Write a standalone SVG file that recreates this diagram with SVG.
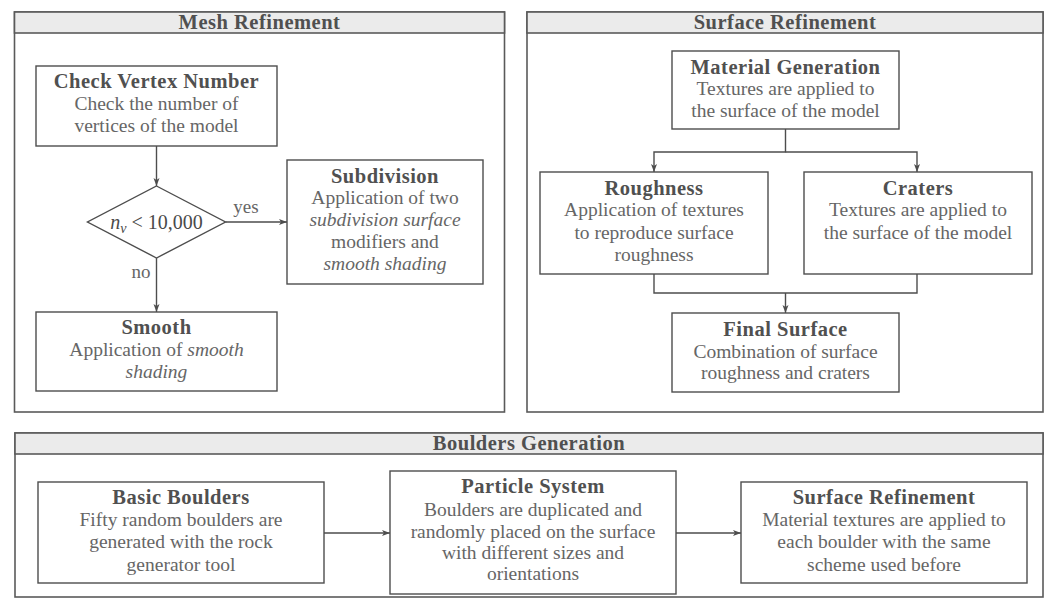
<svg xmlns="http://www.w3.org/2000/svg" width="1056" height="608" viewBox="0 0 1056 608">
<defs>
<marker id="arr" markerUnits="userSpaceOnUse" markerWidth="10" markerHeight="8" refX="8" refY="3.5" orient="auto">
<path d="M0,0.5 L8,3.5 L0,6.5 L2,3.5 z" fill="#4d4d4d"/>
</marker>
<style>
.panel{fill:#fff;stroke:#5a5a5a;stroke-width:1.6}
.hdr{fill:#ebebeb;stroke:#5a5a5a;stroke-width:1.6}
.box{fill:#fff;stroke:#4d4d4d;stroke-width:1.4}
.edge{fill:none;stroke:#4d4d4d;stroke-width:1.4}
.t{font-family:"Liberation Serif",serif;font-size:20.5px;font-weight:bold;fill:#505050;text-anchor:middle;letter-spacing:0.5px}
.b{font-family:"Liberation Serif",serif;font-size:19.5px;fill:#666;text-anchor:middle}
.i{font-style:italic}
.lbl{font-family:"Liberation Serif",serif;font-size:19px;fill:#666;text-anchor:middle}
</style>
</defs>

<g id="panel-mesh">
<rect class="panel" x="14.5" y="12" width="490" height="400"/>
<rect class="hdr" x="14.5" y="12" width="490" height="21"/>
<text class="t" x="259.5" y="29">Mesh Refinement</text>
</g>
<g id="panel-surface">
<rect class="panel" x="527" y="12" width="516" height="400"/>
<rect class="hdr" x="527" y="12" width="516" height="21"/>
<text class="t" x="785" y="29">Surface Refinement</text>
</g>
<g id="panel-boulders">
<rect class="panel" x="15" y="433" width="1028" height="164"/>
<rect class="hdr" x="15" y="433" width="1028" height="21"/>
<text class="t" x="529" y="450">Boulders Generation</text>
</g>

<g id="connectors">
<path class="edge" d="M156.5,146 V186" marker-end="url(#arr)"/>
<path class="edge" d="M225.5,222 H287" marker-end="url(#arr)"/>
<path class="edge" d="M156.5,258 V312" marker-end="url(#arr)"/>
<path class="edge" d="M785.5,129 V152 H654 V172" marker-end="url(#arr)"/>
<path class="edge" d="M785.5,152 H917 V172" marker-end="url(#arr)"/>
<path class="edge" d="M654,274 V293 H917 V274"/>
<path class="edge" d="M785.5,293 V313" marker-end="url(#arr)"/>
<path class="edge" d="M324,533 H390" marker-end="url(#arr)"/>
<path class="edge" d="M676,533 H741" marker-end="url(#arr)"/>
<text class="lbl" x="246" y="213">yes</text>
<text class="lbl" x="141" y="278">no</text>
</g>

<g id="check-vertex">
<rect class="box" x="36" y="66" width="241" height="80"/>
<text class="t" x="156.5" y="88">Check Vertex Number</text>
<text class="b" x="156.5" y="110">Check the number of</text>
<text class="b" x="156.5" y="132">vertices of the model</text>
</g>
<g id="decision">
<polygon class="box" points="156.5,186 225.5,222 156.5,258 87.5,222"/>
<text font-family="Liberation Serif, serif" font-size="20px" fill="#4a4a4a" text-anchor="middle" x="156.5" y="229"><tspan font-style="italic">n</tspan><tspan font-style="italic" font-size="14px" dy="4">v</tspan><tspan dy="-4"> &lt; 10,000</tspan></text>
</g>
<g id="subdivision">
<rect class="box" x="287" y="160" width="196" height="124"/>
<text class="t" x="385" y="183">Subdivision</text>
<text class="b" x="385" y="204">Application of two</text>
<text class="b i" x="385" y="226">subdivision surface</text>
<text class="b" x="385" y="248">modifiers and</text>
<text class="b i" x="385" y="270">smooth shading</text>
</g>
<g id="smooth">
<rect class="box" x="36" y="312" width="241" height="79"/>
<text class="t" x="156.5" y="334">Smooth</text>
<text class="b" x="156.5" y="356">Application of <tspan class="i">smooth</tspan></text>
<text class="b i" x="156.5" y="378">shading</text>
</g>

<g id="material">
<rect class="box" x="672" y="51" width="227" height="78"/>
<text class="t" x="785.5" y="74">Material Generation</text>
<text class="b" x="785.5" y="95">Textures are applied to</text>
<text class="b" x="785.5" y="117">the surface of the model</text>
</g>
<g id="roughness">
<rect class="box" x="540" y="172" width="228" height="102"/>
<text class="t" x="654" y="195">Roughness</text>
<text class="b" x="654" y="216">Application of textures</text>
<text class="b" x="654" y="239">to reproduce surface</text>
<text class="b" x="654" y="261">roughness</text>
</g>
<g id="craters">
<rect class="box" x="804" y="172" width="228" height="102"/>
<text class="t" x="918" y="195">Craters</text>
<text class="b" x="918" y="216">Textures are applied to</text>
<text class="b" x="918" y="239">the surface of the model</text>
</g>
<g id="final-surface">
<rect class="box" x="672" y="313" width="227" height="79"/>
<text class="t" x="785.5" y="336">Final Surface</text>
<text class="b" x="785.5" y="358">Combination of surface</text>
<text class="b" x="785.5" y="379">roughness and craters</text>
</g>

<g id="basic-boulders">
<rect class="box" x="38" y="482" width="286" height="101"/>
<text class="t" x="181" y="504">Basic Boulders</text>
<text class="b" x="181" y="526">Fifty random boulders are</text>
<text class="b" x="181" y="548">generated with the rock</text>
<text class="b" x="181" y="571">generator tool</text>
</g>
<g id="particle-system">
<rect class="box" x="390" y="471" width="286" height="123"/>
<text class="t" x="533" y="493">Particle System</text>
<text class="b" x="533" y="516">Boulders are duplicated and</text>
<text class="b" x="533" y="538">randomly placed on the surface</text>
<text class="b" x="533" y="559">with different sizes and</text>
<text class="b" x="533" y="580">orientations</text>
</g>
<g id="surface-refinement-b">
<rect class="box" x="741" y="482" width="286" height="101"/>
<text class="t" x="884" y="504">Surface Refinement</text>
<text class="b" x="884" y="526">Material textures are applied to</text>
<text class="b" x="884" y="548">each boulder with the same</text>
<text class="b" x="884" y="571">scheme used before</text>
</g>
</svg>
